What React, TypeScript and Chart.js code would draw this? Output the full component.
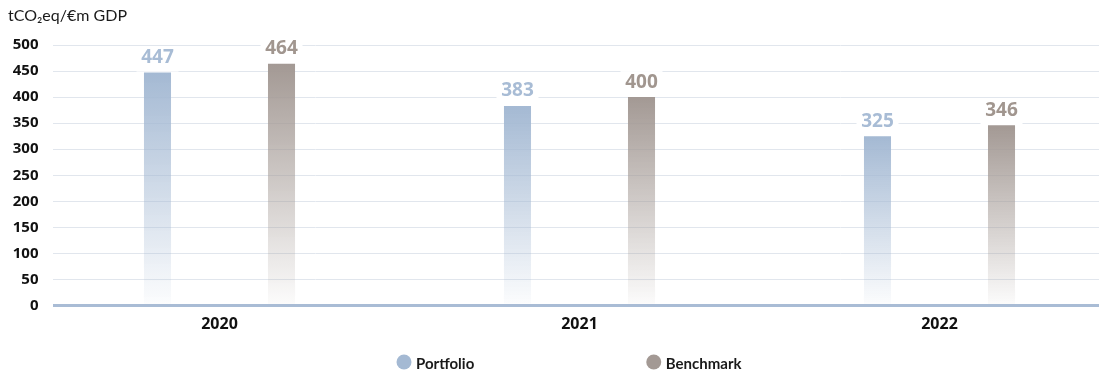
import { useEffect, useRef } from "react";
import { Chart, registerables } from "chart.js";

Chart.register(...registerables);

// Emissions intensity per year, portfolio versus benchmark
const years = ["2020", "2021", "2022"];
const portfolio = [447, 383, 325];
const benchmark = [464, 400, 346];
const seriesNames = ["Portfolio", "Benchmark"];
const yMax = 500;
const yStep = 50;
const unitLabel = "tCO₂eq/€m GDP";

const NUM_FONT = '"Open Sans", "Noto Sans", sans-serif';
const TEXT_FONT = 'Lato, "Open Sans", sans-serif';
const PORTFOLIO_COLOR = "#a4b9d3";
const BENCHMARK_COLOR = "#a39994";
const PORTFOLIO_LABEL = "#a8bcd5";
const BENCHMARK_LABEL = "#a1968f";
const GRID_COLOR = "#e1e6ed";
const BASE_COLOR = "#a9bcd5";

function withAlpha(hex: string, a: number) {
  const n = parseInt(hex.slice(1), 16);
  return `rgba(${(n >> 16) & 255},${(n >> 8) & 255},${n & 255},${a})`;
}

// Each bar fades from its solid colour at the top to near-white at the axis
function fadingFill(hex: string) {
  return (ctx: any) => {
    const chart = ctx.chart;
    const area = chart.chartArea;
    const y = chart.scales?.y;
    if (!area || !y || ctx.raw == null) return hex;
    const top = y.getPixelForValue(ctx.raw);
    const g = chart.ctx.createLinearGradient(0, top, 0, area.bottom);
    g.addColorStop(0, hex);
    g.addColorStop(1, withAlpha(hex, 0.03));
    return g;
  };
}

const gridPlugin = {
  id: "insetGrid",
  beforeDatasetsDraw(chart: any) {
    const { ctx, chartArea } = chart;
    const y = chart.scales.y;
    const x0 = chartArea.left + 13.5;
    const x1 = chartArea.right - 16.5;
    ctx.save();
    ctx.strokeStyle = GRID_COLOR;
    ctx.lineWidth = 1;
    for (let v = yStep; v <= yMax; v += yStep) {
      const py = Math.round(y.getPixelForValue(v)) + 0.5;
      ctx.beginPath();
      ctx.moveTo(x0, py);
      ctx.lineTo(x1, py);
      ctx.stroke();
    }
    ctx.restore();
  },
  afterDatasetsDraw(chart: any) {
    const { ctx, chartArea } = chart;
    const y = chart.scales.y;
    const x0 = chartArea.left + 13.5;
    const x1 = chartArea.right - 16.5;
    const py = y.getPixelForValue(0);
    ctx.save();
    ctx.strokeStyle = BASE_COLOR;
    ctx.lineWidth = 3;
    ctx.beginPath();
    ctx.moveTo(x0, py);
    ctx.lineTo(x1, py);
    ctx.stroke();

    // value labels on white plates above each bar
    const labelColors = [PORTFOLIO_LABEL, BENCHMARK_LABEL];
    chart.data.datasets.forEach((ds: any, di: number) => {
      const meta = chart.getDatasetMeta(di);
      meta.data.forEach((bar: any, i: number) => {
        const v = ds.data[i];
        const top = bar.y;
        ctx.fillStyle = "#ffffff";
        ctx.fillRect(bar.x - 21, top - 26, 42, 25);
        ctx.fillStyle = labelColors[di];
        ctx.font = `700 19px ${NUM_FONT}`;
        ctx.textAlign = "center";
        ctx.textBaseline = "middle";
        ctx.fillText(String(v), bar.x, top - 15);
      });
    });

    ctx.restore();
  },
  afterDraw(chart: any) {
    const { ctx, width } = chart;
    ctx.save();
    // unit caption
    ctx.fillStyle = "#1a1a1a";
    ctx.font = `400 16px ${TEXT_FONT}`;
    ctx.textAlign = "left";
    ctx.textBaseline = "middle";
    ctx.fillText(unitLabel, 0, 8);

    // legend
    const colors = [PORTFOLIO_COLOR, BENCHMARK_COLOR];
    ctx.font = `700 15px ${TEXT_FONT}`;
    const r = 7.5;
    const gapText = 4.5;
    const gapItems = 172;
    const widths = seriesNames.map((n) => 2 * r + gapText + ctx.measureText(n).width);
    const total = widths.reduce((a, b) => a + b, 0) + gapItems * (seriesNames.length - 1);
    let x = width / 2 + 5 - total / 2;
    const cy = 354;
    seriesNames.forEach((n, i) => {
      ctx.fillStyle = colors[i];
      ctx.beginPath();
      ctx.arc(x + r, cy, r, 0, Math.PI * 2);
      ctx.fill();
      ctx.fillStyle = "#1a1a1a";
      ctx.textAlign = "left";
      ctx.textBaseline = "middle";
      ctx.fillText(n, x + 2 * r + gapText, cy + 2);
      x += widths[i] + gapItems;
    });
    ctx.restore();
  },
};

export default function App() {
  const ref = useRef<HTMLCanvasElement>(null);

  useEffect(() => {
    document.documentElement.style.overflow = "hidden";
    document.body.style.overflow = "hidden";
    const canvas = ref.current!;
    const chart = new Chart(canvas, {
      type: "bar",
      data: {
        labels: years,
        datasets: [
          {
            label: seriesNames[0],
            data: portfolio,
            backgroundColor: fadingFill(PORTFOLIO_COLOR),
            borderWidth: 0,
          },
          {
            label: seriesNames[1],
            data: benchmark,
            backgroundColor: fadingFill(BENCHMARK_COLOR),
            borderWidth: 0,
          },
        ],
      },
      plugins: [gridPlugin],
      options: {
        responsive: false,
        animation: false,
        devicePixelRatio: 1,
        layout: { padding: { top: 37, bottom: 29.5, left: 0, right: 0.5 } },
        datasets: {
          bar: { categoryPercentage: 0.689, barPercentage: 0.218 },
        },
        plugins: {
          legend: { display: false },
          title: { display: false },
          tooltip: { enabled: false },
        },
        scales: {
          x: {
            offset: true,
            grid: { display: false, drawTicks: false },
            border: { display: false },
            afterFit(scale: any) {
              scale.height = 40;
            },
            ticks: {
              padding: 9,
              color: "#111111",
              font: { family: NUM_FONT, size: 16, weight: "bold" },
            },
          },
          y: {
            min: 0,
            max: yMax,
            grid: { display: false, drawTicks: false },
            border: { display: false },
            afterFit(scale: any) {
              scale.width = 31.5;
            },
            ticks: {
              stepSize: yStep,
              padding: 1,
              color: "#111111",
              font: { family: NUM_FONT, size: 15, weight: "bold" },
            },
          },
        },
      },
    });
    return () => chart.destroy();
  }, []);

  return (
    <div style={{ width: 1099, height: 367, overflow: "hidden" }}>
      <canvas ref={ref} width={1112} height={367} style={{ display: "block", width: 1112, height: 367 }} />
    </div>
  );
}
